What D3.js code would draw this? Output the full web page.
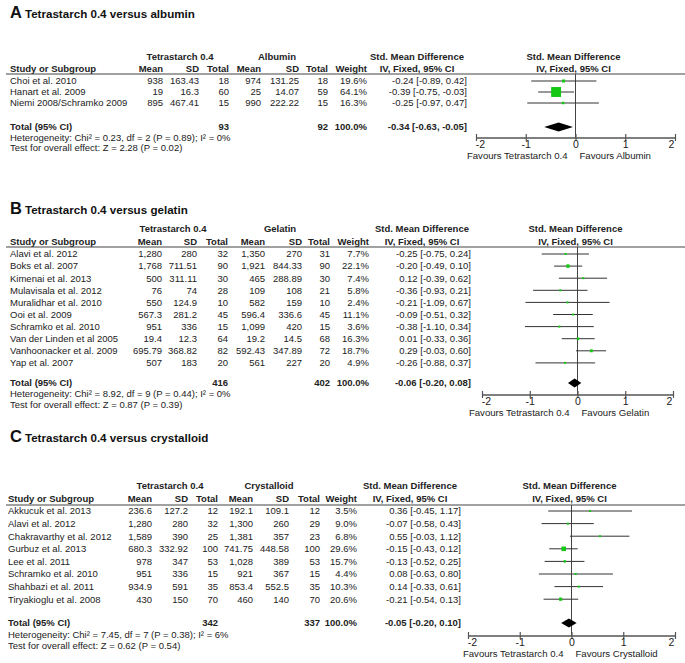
<!DOCTYPE html>
<html><head><meta charset="utf-8">
<script src="https://cdnjs.cloudflare.com/ajax/libs/d3/7.8.5/d3.min.js"></script>
<style>
body{margin:0;background:#fff;}
svg{font-family:"Liberation Sans",Arial,sans-serif;}
</style></head>
<body><svg id="c" width="685" height="663"></svg>
<script>
// ---------- DATA ----------
const titlesPanel = ["Tetrastarch 0.4 versus albumin","Tetrastarch 0.4 versus gelatin","Tetrastarch 0.4 versus crystalloid"];
const panelLetters = ["A","B","C"];
const controlNames = ["Albumin","Gelatin","Crystalloid"];
const expName = "Tetrastarch 0.4";
const tickValues = [-2,-1,0,1,2];

// Panel A
const studiesA = ["Choi et al. 2010","Hanart et al. 2009","Niemi 2008/Schramko 2009"];
const meanE_A = ["938","19","895"];
const sdE_A = ["163.43","16.3","467.41"];
const nE_A = [18,60,15];
const meanC_A = ["974","25","990"];
const sdC_A = ["131.25","14.07","222.22"];
const nC_A = [18,59,15];
const weightA = [19.6,64.1,16.3];
const smdA = [-0.24,-0.39,-0.25];
const loA = [-0.89,-0.75,-0.97];
const hiA = [0.42,-0.03,0.47];
const totalA = {nE:93,nC:92,smd:-0.34,lo:-0.63,hi:-0.05,het:"Heterogeneity: Chi² = 0.23, df = 2 (P = 0.89); I² = 0%",z:"Test for overall effect: Z = 2.28 (P = 0.02)"};

// Panel B
const studiesB = ["Alavi et al. 2012","Boks et al. 2007","Kimenai et al. 2013","Mulavisala et al. 2012","Muralidhar et al. 2010","Ooi et al. 2009","Schramko et al. 2010","Van der Linden et al 2005","Vanhoonacker et al. 2009","Yap et al. 2007"];
const meanE_B = ["1,280","1,768","500","76","550","567.3","951","19.4","695.79","507"];
const sdE_B = ["280","711.51","311.11","74","124.9","281.2","336","12.3","368.82","183"];
const nE_B = [32,90,30,28,10,45,15,64,82,20];
const meanC_B = ["1,350","1,921","465","109","582","596.4","1,099","19.2","592.43","561"];
const sdC_B = ["270","844.33","288.89","108","159","336.6","420","14.5","347.89","227"];
const nC_B = [31,90,30,21,10,45,15,68,72,20];
const weightB = [7.7,22.1,7.4,5.8,2.4,11.1,3.6,16.3,18.7,4.9];
const smdB = [-0.25,-0.20,0.12,-0.36,-0.21,-0.09,-0.38,0.01,0.29,-0.26];
const loB = [-0.75,-0.49,-0.39,-0.93,-1.09,-0.51,-1.10,-0.33,-0.03,-0.88];
const hiB = [0.24,0.10,0.62,0.21,0.67,0.32,0.34,0.36,0.60,0.37];
const totalB = {nE:416,nC:402,smd:-0.06,lo:-0.20,hi:0.08,het:"Heterogeneity: Chi² = 8.92, df = 9 (P = 0.44); I² = 0%",z:"Test for overall effect: Z = 0.87 (P = 0.39)"};

// Panel C
const studiesC = ["Akkucuk et al. 2013","Alavi et al. 2012","Chakravarthy et al. 2012","Gurbuz et al. 2013","Lee et al. 2011","Schramko et al. 2010","Shahbazi et al. 2011","Tiryakioglu et al. 2008"];
const meanE_C = ["236.6","1,280","1,589","680.3","978","951","934.9","430"];
const sdE_C = ["127.2","280","390","332.92","347","336","591","150"];
const nE_C = [12,32,25,100,53,15,35,70];
const meanC_C = ["192.1","1,300","1,381","741.75","1,028","921","853.4","460"];
const sdC_C = ["109.1","260","357","448.58","389","367","552.5","140"];
const nC_C = [12,29,23,100,53,15,35,70];
const weightC = [3.5,9.0,6.8,29.6,15.7,4.4,10.3,20.6];
const smdC = [0.36,-0.07,0.55,-0.15,-0.13,0.08,0.14,-0.21];
const loC = [-0.45,-0.58,-0.03,-0.43,-0.52,-0.63,-0.33,-0.54];
const hiC = [1.17,0.43,1.12,0.12,0.25,0.80,0.61,0.13];
const totalC = {nE:342,nC:337,smd:-0.05,lo:-0.20,hi:0.10,het:"Heterogeneity: Chi² = 7.45, df = 7 (P = 0.38); I² = 6%",z:"Test for overall effect: Z = 0.62 (P = 0.54)"};

// ---------- LAYOUT ----------
const layouts = [
 {titleY:18, grpY:57, hdrY:69, lineY:74, row0:81, step:11, totY:127, hetY:138, zY:148, axisY:138,
  cols:{study:10,mE:163,sdE:199,nE:229,mC:261,sdC:299,nC:328,w:367,eff:467,effC:417,grpE:180,grpC:277},
  xr:[476,675]},
 {titleY:214, grpY:229, hdrY:242, lineY:247, row0:254, step:12.1, totY:383, hetY:394, zY:405, axisY:395,
  cols:{study:10,mE:162,sdE:197,nE:228,mC:265,sdC:302,nC:330,w:369,eff:471,effC:422,grpE:173,grpC:280},
  xr:[482,673]},
 {titleY:442, grpY:486, hdrY:499, lineY:505, row0:511, step:12.6, totY:623, hetY:635, zY:646, axisY:636,
  cols:{study:8,mE:152,sdE:188,nE:218,mC:253,sdC:289,nC:320,w:357,eff:461,effC:410,grpE:170,grpC:269},
  xr:[468,675]}
];

const panels = [
 {studies:studiesA,mE:meanE_A,sdE:sdE_A,nE:nE_A,mC:meanC_A,sdC:sdC_A,nC:nC_A,w:weightA,smd:smdA,lo:loA,hi:hiA,tot:totalA},
 {studies:studiesB,mE:meanE_B,sdE:sdE_B,nE:nE_B,mC:meanC_B,sdC:sdC_B,nC:nC_B,w:weightB,smd:smdB,lo:loB,hi:hiB,tot:totalB},
 {studies:studiesC,mE:meanE_C,sdE:sdE_C,nE:nE_C,mC:meanC_C,sdC:sdC_C,nC:nC_C,w:weightC,smd:smdC,lo:loC,hi:hiC,tot:totalC}
];

const svg = d3.select("#c");
const TXT = "#222", FS = 9.5;
const fmt = v => (v<0?"-":"") + Math.abs(v).toFixed(2);
const effStr = (m,l,h) => `${fmt(m)} [${fmt(l)}, ${fmt(h)}]`;

function txt(g, x, y, s, opt={}) {
  return g.append("text").attr("x",x).attr("y",y).attr("dy","0.35em")
    .attr("fill",TXT).attr("font-size",opt.fs||FS)
    .attr("font-weight",opt.bold?"bold":"normal")
    .attr("text-anchor",opt.anchor||"start").text(s);
}

panels.forEach((p,pi)=>{
  const L = layouts[pi], c = L.cols;
  const g = svg.append("g");
  // title
  const t = g.append("text").attr("x",10).attr("y",L.titleY).attr("fill","#111").attr("font-weight","bold");
  t.append("tspan").attr("font-size",16.5).text(panelLetters[pi]);
  t.append("tspan").attr("font-size",11.6).attr("dx",3).text(titlesPanel[pi]);

  // headers
  txt(g,c.grpE,L.grpY,expName,{bold:true,anchor:"middle"});
  txt(g,c.grpC,L.grpY,controlNames[pi],{bold:true,anchor:"middle"});
  txt(g,c.effC,L.grpY,"Std. Mean Difference",{bold:true,anchor:"middle"});
  txt(g,c.study,L.hdrY,"Study or Subgroup",{bold:true});
  [["mE","Mean"],["sdE","SD"],["nE","Total"],["mC","Mean"],["sdC","SD"],["nC","Total"],["w","Weight"]]
    .forEach(([k,s])=>txt(g,c[k],L.hdrY,s,{bold:true,anchor:"end"}));
  txt(g,c.effC,L.hdrY,"IV, Fixed, 95% CI",{bold:true,anchor:"middle"});

  const x = d3.scaleLinear().domain([-2,2]).range(L.xr);
  const xc = x(0);
  txt(g,xc-2,L.grpY,"Std. Mean Difference",{bold:true,anchor:"middle"});
  txt(g,xc-2,L.hdrY,"IV, Fixed, 95% CI",{bold:true,anchor:"middle"});

  g.append("line").attr("x1",6).attr("x2",685).attr("y1",L.lineY).attr("y2",L.lineY)
    .attr("stroke","#444").attr("stroke-width",1.2);

  const y = d3.scaleLinear().domain([0,1]).range([L.row0,L.row0+L.step]);

  // rows
  p.studies.forEach((s,i)=>{
    const yy = y(i);
    txt(g,c.study,yy,s);
    txt(g,c.mE,yy,p.mE[i],{anchor:"end"});
    txt(g,c.sdE,yy,p.sdE[i],{anchor:"end"});
    txt(g,c.nE,yy,p.nE[i],{anchor:"end"});
    txt(g,c.mC,yy,p.mC[i],{anchor:"end"});
    txt(g,c.sdC,yy,p.sdC[i],{anchor:"end"});
    txt(g,c.nC,yy,p.nC[i],{anchor:"end"});
    txt(g,c.w,yy,p.w[i].toFixed(1)+"%",{anchor:"end"});
    txt(g,c.eff,yy,effStr(p.smd[i],p.lo[i],p.hi[i]),{anchor:"end"});
  });

  // zero line
  g.append("line").attr("x1",xc).attr("x2",xc).attr("y1",L.lineY).attr("y2",L.axisY)
    .attr("stroke","#444").attr("stroke-width",1);

  // CI lines and boxes
  g.selectAll(".ci").data(p.smd).enter().append("line")
    .attr("x1",(d,i)=>x(p.lo[i])).attr("x2",(d,i)=>x(p.hi[i]))
    .attr("y1",(d,i)=>y(i)).attr("y2",(d,i)=>y(i))
    .attr("stroke","#333").attr("stroke-width",1);
  const side = i => Math.max(2,p.w[i]*0.155);
  g.selectAll(".bx").data(p.smd).enter().append("rect")
    .attr("x",(d,i)=>x(d)-side(i)/2)
    .attr("y",(d,i)=>y(i)-side(i)/2)
    .attr("width",(d,i)=>side(i))
    .attr("height",(d,i)=>side(i))
    .attr("fill","#14c814");

  // total row
  const T = p.tot;
  txt(g,c.study,L.totY,"Total (95% CI)",{bold:true});
  txt(g,c.nE,L.totY,T.nE,{bold:true,anchor:"end"});
  txt(g,c.nC,L.totY,T.nC,{bold:true,anchor:"end"});
  txt(g,c.w,L.totY,"100.0%",{bold:true,anchor:"end"});
  txt(g,c.eff,L.totY,effStr(T.smd,T.lo,T.hi),{bold:true,anchor:"end"});
  const dh = 4.5;
  g.append("path").attr("d",`M${x(T.lo)},${L.totY}L${x(T.smd)},${L.totY-dh}L${x(T.hi)},${L.totY}L${x(T.smd)},${L.totY+dh}Z`)
    .attr("fill","#000");
  txt(g,c.study,L.hetY,T.het);
  txt(g,c.study,L.zY,T.z);

  // axis
  const ax = g.append("g").attr("transform",`translate(0,${L.axisY})`)
    .call(d3.axisBottom(x).tickValues(tickValues).tickSize(3).tickFormat(d3.format("d")));
  ax.select(".domain").attr("stroke","#555").attr("stroke-width",1.6).attr("d",`M${L.xr[0]},0H${L.xr[1]}`);
  ax.selectAll(".tick line").attr("stroke","#555").attr("stroke-width",1.2).attr("y1",-4).attr("y2",3);
  ax.selectAll(".tick text").attr("fill",TXT).attr("font-size",10.5).attr("y",3)
    .attr("font-family","Liberation Sans, Arial, sans-serif")
    .attr("dx",d=>d===-2?4:(d===2?-4:0)).text(d=>d<0?"-"+Math.abs(d):d);
  txt(g,xc-8,L.axisY+18,"Favours "+expName,{anchor:"end",fs:9.6});
  txt(g,xc+4,L.axisY+18,"Favours "+controlNames[pi],{fs:9.6});
});
</script></body></html>
